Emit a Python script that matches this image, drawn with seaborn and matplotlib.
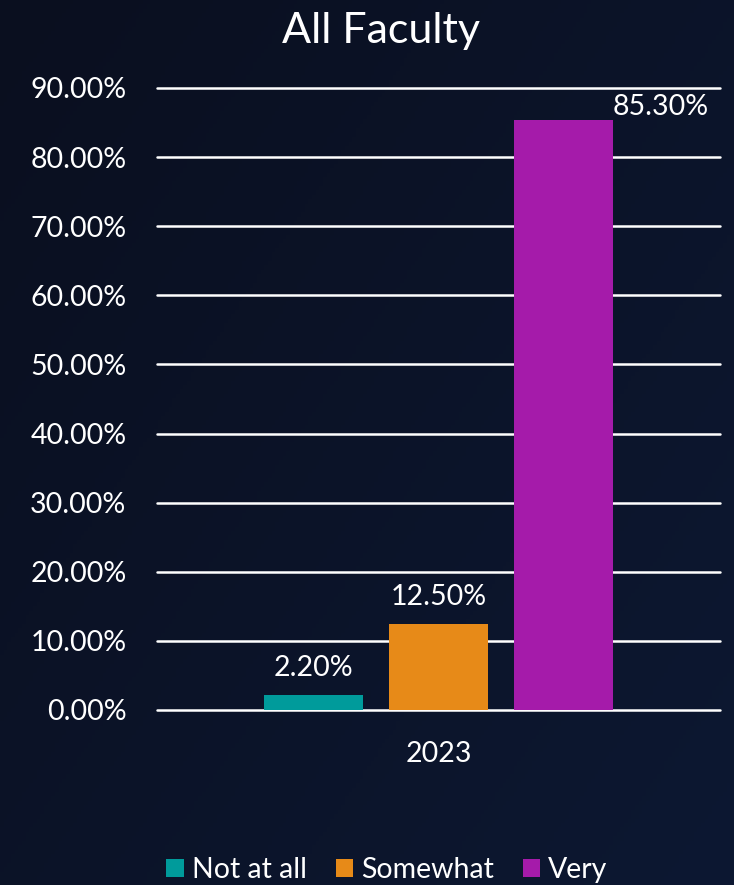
import numpy as np
import pandas as pd
import matplotlib
matplotlib.use("Agg")
import matplotlib.pyplot as plt
from matplotlib.ticker import FuncFormatter, MultipleLocator
from matplotlib.patches import Patch
import seaborn as sns

# Survey responses, all faculty
years = ["2023"]
responses = ["Not at all", "Somewhat", "Very"]
shares = [2.2, 12.5, 85.3]
palette = ["#009B9B", "#E78A18", "#A51BAA"]

df = pd.DataFrame({"year": years * len(responses), "response": responses, "share": shares})

sns.set_theme(style="white")
plt.rcParams["font.family"] = ["Lato", "DejaVu Sans"]

W, H, DPI = 734, 885, 100
fig = plt.figure(figsize=(W / DPI, H / DPI), dpi=DPI)

# dark navy diagonal gradient background
bg = fig.add_axes([0, 0, 1, 1], zorder=-10)
yy, xx = np.mgrid[0:1:200j, 0:1:200j]
t = np.clip(0.55 * xx + 0.45 * yy, 0, 1)
c0 = np.array([10, 15, 31]) / 255
c1 = np.array([13, 24, 50]) / 255
img = c0[None, None, :] * (1 - t[..., None]) + c1[None, None, :] * t[..., None]
bg.imshow(img, aspect="auto", extent=[0, 1, 0, 1], origin="upper")
bg.axis("off")

ax = fig.add_axes([157 / W, (H - 710) / H, (720 - 157) / W, (710 - 88) / H])
ax.patch.set_alpha(0)

sns.barplot(data=df, x="year", y="share", hue="response", hue_order=responses,
            palette=palette, width=0.666, gap=0.21, saturation=1,
            linewidth=0, edgecolor="none",
            legend=False, ax=ax, zorder=3)

ax.set_ylim(0, 90)
ax.set_xlim(-0.5, 0.5)
ax.yaxis.set_major_locator(MultipleLocator(10))
ax.yaxis.set_major_formatter(FuncFormatter(lambda v, p: f"{v:.2f}%"))
ax.grid(axis="y", color="white", lw=1.8, zorder=1)
for gl in ax.get_ygridlines():
    gl.set_clip_on(False)
ax.set_axisbelow(True)
for s in ax.spines.values():
    s.set_visible(False)
ax.tick_params(axis="y", length=0, pad=22, labelsize=20.5, labelcolor="white")
ax.tick_params(axis="x", length=0, pad=22, labelsize=20.5, labelcolor="white")
ax.set_xlabel("")
ax.set_ylabel("")

# value labels above each bar
bars = [p for p in ax.patches if p.get_height() > 0]
bars.sort(key=lambda p: p.get_x())
for p, v in zip(bars, shares):
    cx = p.get_x() + p.get_width() / 2
    if v > 80:
        ax.text(p.get_x() + p.get_width(), v, f"{v:.2f}%", ha="left", va="bottom",
                color="white", fontsize=20.5, zorder=5)
    else:
        ax.annotate(f"{v:.2f}%", (cx, v), xytext=(0, 10), textcoords="offset points",
                    ha="center", va="bottom", color="white", fontsize=20.5, zorder=5)

fig.text(381 / W, 1 - 31 / H, "All Faculty", ha="center", va="center",
         color="white", fontsize=31)

handles = [Patch(facecolor=c, edgecolor="none", label=r) for c, r in zip(palette, responses)]
leg = fig.legend(handles=handles, loc="center", bbox_to_anchor=(387 / W, 1 - 870 / H),
                 ncol=3, frameon=False, fontsize=20.5, handlelength=0.6, handleheight=0.6,
                 handletextpad=0.3, columnspacing=1.0, borderpad=0)
for txt in leg.get_texts():
    txt.set_color("white")

fig.savefig("out.png", dpi=DPI)
